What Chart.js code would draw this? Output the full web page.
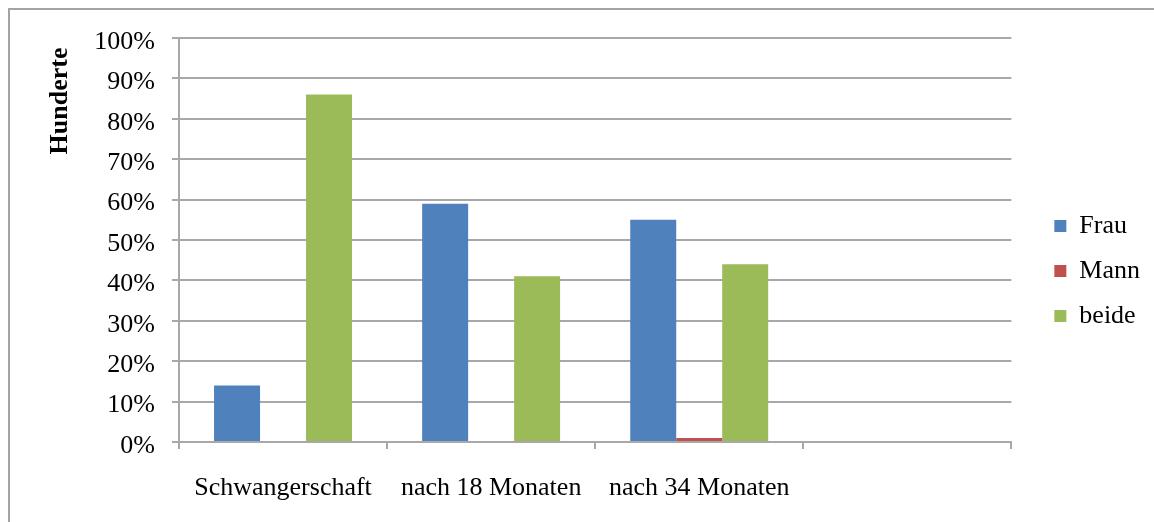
<!DOCTYPE html>
<html>
<head>
<meta charset="utf-8">
<script src="https://cdn.jsdelivr.net/npm/chart.js@4/dist/chart.umd.min.js"></script>
<style>
html,body{margin:0;padding:0;background:#fff;}
#wrap{position:relative;width:1154px;height:522px;overflow:hidden;background:#fff;}
#frame{position:absolute;left:8px;top:8px;width:1300px;height:700px;border-top:2px solid #a3a3a3;border-left:2px solid #a3a3a3;}
canvas{position:absolute;left:0;top:0;}
</style>
</head>
<body>
<div id="wrap"><div id="frame"></div><canvas id="c" width="1154" height="522"></canvas></div>
<script>
// ---- data ----
const categories = ['Schwangerschaft', 'nach 18 Monaten', 'nach 34 Monaten', ''];
const seriesNames = ['Frau', 'Mann', 'beide'];
const frauValues = [14, 59, 55, null];
const mannValues = [0, 0, 1, null];
const beideValues = [86, 41, 44, null];
const yTickLabels = ['0%', '10%', '20%', '30%', '40%', '50%', '60%', '70%', '80%', '90%', '100%'];
const yAxisTitle = 'Hunderte';

// ---- styles ----
const FONT = '"Liberation Serif", "Times New Roman", serif';
const GRID = '#a8a8a8';
const colors = ['#4F81BD', '#C0504D', '#9BBB59'];

const yTitlePlugin = {
  id: 'yTitlePlugin',
  afterDraw(chart) {
    const ctx = chart.ctx;
    ctx.save();
    ctx.translate(60, 101);
    ctx.rotate(-Math.PI / 2);
    ctx.font = 'bold 26px ' + FONT;
    ctx.fillStyle = '#000';
    ctx.textAlign = 'center';
    ctx.textBaseline = 'middle';
    ctx.fillText(yAxisTitle, 0, 0);
    ctx.restore();
  }
};

new Chart(document.getElementById('c'), {
  type: 'bar',
  data: {
    labels: categories,
    datasets: [
      { label: seriesNames[0], data: frauValues, backgroundColor: colors[0] },
      { label: seriesNames[1], data: mannValues, backgroundColor: colors[1] },
      { label: seriesNames[2], data: beideValues, backgroundColor: colors[2] }
    ]
  },
  options: {
    responsive: false,
    animation: false,
    devicePixelRatio: 1,
    datasets: { bar: { categoryPercentage: 0.663, barPercentage: 1.0, borderWidth: 0 } },
    layout: { padding: { left: 0, top: 38, right: 4, bottom: 18 } },
    plugins: {
      tooltip: { enabled: false },
      legend: {
        position: 'right',
        labels: {
          boxWidth: 12,
          boxHeight: 12,
          padding: 19,
          color: '#000',
          font: { family: FONT, size: 26 }
        }
      }
    },
    scales: {
      x: {
        grid: { display: true, drawOnChartArea: false, drawTicks: true, tickLength: 7, color: GRID, lineWidth: 2, offset: true },
        border: { display: true, color: GRID, width: 2 },
        ticks: { color: '#000', font: { family: FONT, size: 26 }, padding: 24, maxRotation: 0, autoSkip: false },
        afterFit: (s) => { s.height = 62; }
      },
      y: {
        min: 0,
        max: 100,
        grid: { color: GRID, lineWidth: 2, tickLength: 7, drawTicks: true },
        border: { display: true, color: GRID, width: 2 },
        ticks: {
          stepSize: 10,
          padding: 17,
          labelOffset: 4,
          color: '#000',
          font: { family: FONT, size: 26 },
          callback: (v) => yTickLabels[Math.round(v / 10)]
        },
        afterFit: (s) => { s.width = 179; }
      },
      yGap: {
        position: 'right',
        display: true,
        grid: { display: false },
        border: { display: false },
        ticks: { display: false },
        afterFit: (s) => { s.width = 24; }
      }
    }
  },
  plugins: [yTitlePlugin]
});
</script>
</body>
</html>
